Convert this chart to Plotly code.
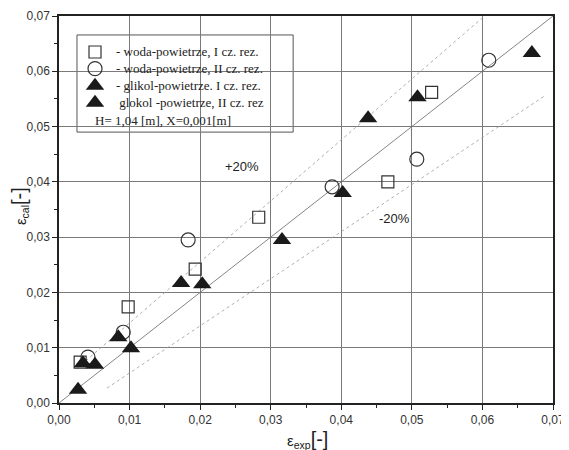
import plotly.graph_objects as go

# data
sq_x = [0.0030, 0.0098, 0.0193, 0.0283, 0.0466, 0.0528]
sq_y = [0.0074, 0.0174, 0.0242, 0.0336, 0.0400, 0.0562]

ci_x = [0.0041, 0.0091, 0.0183, 0.0387, 0.0507, 0.0609]
ci_y = [0.0083, 0.0128, 0.0295, 0.0391, 0.0441, 0.0620]

g1_x = [0.0027, 0.0051, 0.0102, 0.0203, 0.0316, 0.0402]
g1_y = [0.0024, 0.0069, 0.0099, 0.0215, 0.0295, 0.0380]

g2_x = [0.0034, 0.0084, 0.0173, 0.0438, 0.0508, 0.0670]
g2_y = [0.0072, 0.0119, 0.0217, 0.0515, 0.0553, 0.0633]

diag_x = [0.0, 0.07]
diag_y = [0.0, 0.07]
upper_x = [0.0025, 0.0603]
upper_y = [0.0062, 0.0700]
lower_x = [0.0068, 0.0690]
lower_y = [0.0027, 0.0557]

tick_vals = [0.0, 0.01, 0.02, 0.03, 0.04, 0.05, 0.06, 0.07]
tick_text = ["0,00", "0,01", "0,02", "0,03", "0,04", "0,05", "0,06", "0,07"]

names = ["- woda-powietrze, I cz. rez.",
         "- woda-powietrze, II cz. rez.",
         "- glikol-powietrze. I cz. rez.",
         " glokol -powietrze, II cz. rez"]
note = "H= 1,04 [m], X=0,001[m]"

# legend layout (fractions of plot area)
leg_box = dict(x0=0.0364, x1=0.474, y0=0.700, y1=0.951)
leg_sym_x = 0.0729
leg_txt_x = 0.111
leg_note_x = 0.0688
leg_rows = [0.907, 0.864, 0.820, 0.776, 0.731]

styles = [
    dict(symbol="square-open", size=12, color="#333333", line=dict(width=1.2)),
    dict(symbol="circle-open", size=14, color="#333333", line=dict(width=1.2)),
    dict(symbol="triangle-up", size=16, color="#1a1a1a", line=dict(width=0)),
    dict(symbol="triangle-up", size=16, color="#1a1a1a", line=dict(width=0)),
]

fig = go.Figure()

fig.add_trace(go.Scatter(x=diag_x, y=diag_y, mode="lines",
                         line=dict(color="#666666", width=0.8), showlegend=False, hoverinfo="skip"))
fig.add_trace(go.Scatter(x=upper_x, y=upper_y, mode="lines",
                         line=dict(color="#999999", width=0.8, dash="3px,3px"), showlegend=False, hoverinfo="skip"))
fig.add_trace(go.Scatter(x=lower_x, y=lower_y, mode="lines",
                         line=dict(color="#999999", width=0.8, dash="3px,3px"), showlegend=False, hoverinfo="skip"))

series = [(sq_x, sq_y), (ci_x, ci_y), (g1_x, g1_y), (g2_x, g2_y)]
for (sx, sy), nm, st in zip(series, names, styles):
    fig.add_trace(go.Scatter(x=sx, y=sy, mode="markers", name=nm, marker=st, showlegend=False))

# legend symbols on an overlay axis spanning the plot area [0,1]
for i, st in enumerate(styles):
    fig.add_trace(go.Scatter(x=[leg_sym_x], y=[leg_rows[i]], mode="markers", marker=st,
                             xaxis="x2", yaxis="y2", showlegend=False, hoverinfo="skip"))

axis_common = dict(
    range=[0, 0.07], tickvals=tick_vals, ticktext=tick_text,
    showgrid=True, gridcolor="#7a7a7a", gridwidth=1,
    showline=True, linecolor="#222222", linewidth=1.5, mirror=True,
    ticks="outside", ticklen=5, tickcolor="#222222", tickwidth=1.2,
    minor=dict(dtick=0.005, tick0=0, ticks="outside", ticklen=3, tickcolor="#222222", showgrid=False),
    tickfont=dict(family="Liberation Sans, Arial", size=12, color="#333333"),
    zeroline=False, fixedrange=True, automargin=False,
)

leg_font = dict(family="Liberation Serif, Times New Roman", size=13, color="#222222")
annotations = [
    dict(text="+20%", x=0.0259, y=0.0427, xref="x", yref="y", showarrow=False,
         font=dict(family="Liberation Sans, Arial", size=13, color="#222222")),
    dict(text="-20%", x=0.0475, y=0.0334, xref="x", yref="y", showarrow=False,
         font=dict(family="Liberation Sans, Arial", size=13, color="#222222")),
    dict(text="ε<sub>exp</sub><span style='font-size:20px'>[-]</span>", x=0.503, y=-0.095,
         xref="paper", yref="paper", showarrow=False, yanchor="middle",
         font=dict(family="Liberation Sans, Arial", size=15, color="#222222")),
    dict(text="ε<sub>cal</sub><span style='font-size:20px'>[-]</span>", x=-0.08, y=0.51,
         xref="paper", yref="paper", showarrow=False, textangle=-90, xanchor="center", yanchor="middle",
         font=dict(family="Liberation Sans, Arial", size=15, color="#222222")),
]
for i, nm in enumerate(names):
    annotations.append(dict(text=nm, x=leg_txt_x, y=leg_rows[i], xref="paper", yref="paper",
                            xanchor="left", yanchor="middle", showarrow=False, font=leg_font))
annotations.append(dict(text=note, x=leg_note_x, y=leg_rows[4], xref="paper", yref="paper",
                        xanchor="left", yanchor="middle", showarrow=False, font=leg_font))

# page body has an 8px default margin, so margins are shifted by 8px
fig.update_layout(
    width=569, height=442,
    margin=dict(l=51, r=24, t=8, b=47),
    paper_bgcolor="white", plot_bgcolor="white",
    xaxis=axis_common, yaxis=axis_common,
    xaxis2=dict(overlaying="x", range=[0, 1], visible=False, fixedrange=True),
    yaxis2=dict(overlaying="y", range=[0, 1], visible=False, fixedrange=True),
    showlegend=False,
    shapes=[dict(type="rect", xref="paper", yref="paper", layer="between",
                 fillcolor="white", line=dict(color="#555555", width=1), **leg_box)],
    annotations=annotations,
)

fig.write_html("out.html")
